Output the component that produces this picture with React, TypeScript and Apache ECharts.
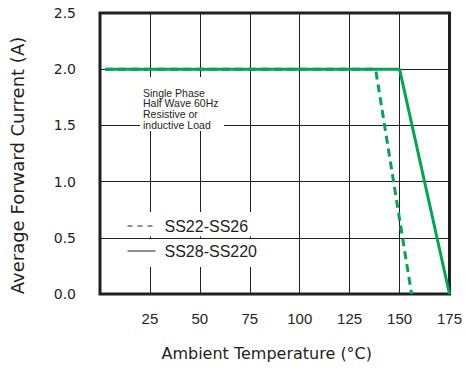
import React, { useEffect, useRef } from "react";
import * as echarts from "echarts";

const xTicks = [0, 25, 50, 75, 100, 125, 150, 175];
const yTicks = [0, 0.5, 1.0, 1.5, 2.0, 2.5];

const dashedName = "SS22-SS26";
const dashedTemp = [2.5, 138, 156];
const dashedCurrent = [2.0, 2.0, 0];

const solidName = "SS28-SS220";
const solidTemp = [2.5, 150, 175];
const solidCurrent = [2.0, 2.0, 0];

const noteLines = ["Single Phase", "Half Wave 60Hz", "Resistive or", "inductive Load"];

const FONT = "'Liberation Sans', Arial, sans-serif";
const WIDE = "'DejaVu Sans', sans-serif";
const INK = "#231f20";
const GREEN = "#00a651";

export default function App() {
  const ref = useRef<HTMLDivElement>(null);
  useEffect(() => {
    if (!ref.current) return;
    const chart = echarts.init(ref.current, undefined, { renderer: "svg" });
    const zip = (xs: number[], ys: number[]) => xs.map((x, i) => [x, ys[i]]);
    chart.setOption({
      animation: false,
      backgroundColor: "#fff",
      textStyle: { fontFamily: FONT },
      grid: {
        left: 100,
        right: 15,
        top: 13,
        bottom: 76,
        show: true,
        borderColor: INK,
        borderWidth: 3,
        backgroundColor: "transparent",
      },
      legend: {
        orient: "vertical",
        left: 127,
        top: 218,
        padding: 0,
        itemWidth: 28,
        itemHeight: 14,
        itemGap: 9,
        textStyle: { fontSize: 16, color: INK, fontFamily: FONT, lineHeight: 16, padding: [0, 0, 0, 4] },
        data: [
          {
            name: dashedName,
            lineStyle: { type: [5, 5], width: 1, color: INK },
            itemStyle: { opacity: 0 },
          },
          {
            name: solidName,
            lineStyle: { type: "solid", width: 1, color: INK },
            itemStyle: { opacity: 0 },
          },
        ],
      },
      xAxis: {
        type: "value",
        min: xTicks[0],
        max: xTicks[xTicks.length - 1],
        interval: 25,
        axisLine: { show: false },
        axisTick: { show: false },
        axisLabel: {
          margin: 17,
          fontSize: 15,
          color: INK,
          fontFamily: FONT,
          formatter: (v: number) => (v === 0 ? "" : String(v)),
        },
        splitLine: { show: true, lineStyle: { color: INK, width: 1 } },
        name: "Ambient Temperature (°C)",
        nameLocation: "middle",
        nameGap: 51,
        nameTextStyle: { fontSize: 16, color: INK, fontFamily: WIDE, padding: [0, 16, 0, 0] },
      },
      yAxis: {
        type: "value",
        min: yTicks[0],
        max: yTicks[yTicks.length - 1],
        interval: 0.5,
        axisLine: { show: false },
        axisTick: { show: false },
        axisLabel: {
          margin: 24,
          fontSize: 14,
          color: INK,
          fontFamily: WIDE,
          formatter: (v: number) => v.toFixed(1),
        },
        splitLine: { show: true, lineStyle: { color: INK, width: 1 } },
        name: "Average Forward Current (A)",
        nameLocation: "middle",
        nameGap: 74,
        nameTextStyle: { fontSize: 18, color: INK, fontFamily: WIDE, padding: [0, 24, 0, 0] },
      },
      series: [
        {
          name: solidName,
          type: "line",
          data: zip(solidTemp, solidCurrent),
          symbol: "none",
          lineStyle: { color: GREEN, width: 3, type: "solid" },
          itemStyle: { color: GREEN },
          z: 3,
        },
        {
          name: dashedName,
          type: "line",
          data: zip(dashedTemp, dashedCurrent),
          symbol: "none",
          lineStyle: { color: GREEN, width: 3, type: [8, 5] },
          itemStyle: { color: GREEN },
          z: 4,
        },
      ],
      graphic: [
        { type: "rect", z: 1, shape: { x: 140, y: 77, width: 84, height: 54 }, style: { fill: "#fff" } },
        { type: "rect", z: 1, shape: { x: 104, y: 212, width: 188, height: 24.5 }, style: { fill: "#fff" } },
        { type: "rect", z: 1, shape: { x: 104, y: 239, width: 188, height: 28 }, style: { fill: "#fff" } },
        {
          type: "text",
          z: 5,
          left: 143,
          top: 87,
          style: {
            text: noteLines.join("\n"),
            fontSize: 10.5,
            lineHeight: 10.7,
            fill: INK,
            fontFamily: FONT,
          },
        },
      ],
    });
    return () => chart.dispose();
  }, []);
  return <div ref={ref} style={{ width: 465, height: 370, position: "absolute", left: 0, top: 0 }} />;
}
